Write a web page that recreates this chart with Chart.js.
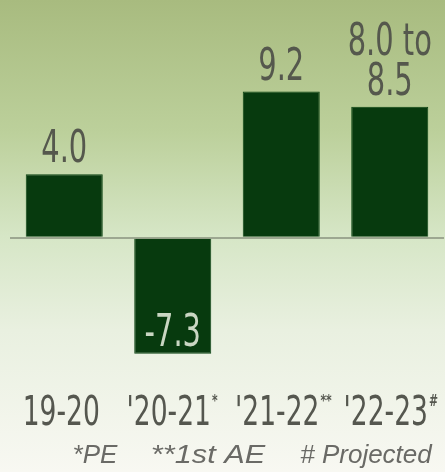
<!DOCTYPE html>
<html>
<head>
<meta charset="utf-8">
<script src="https://cdn.jsdelivr.net/npm/chart.js@4.4.0/dist/chart.umd.min.js"></script>
<style>
  html, body { margin:0; padding:0; }
  body {
    width:445px; height:472px; overflow:hidden;
    background: linear-gradient(to bottom, #a8bb7f 0%, #bcd09b 28%, #d6e6c6 50%, #e9f0e0 70%, #f8f8f2 100%);
  }
  canvas { display:block; }
</style>
</head>
<body>
<canvas id="gdp" width="445" height="472"></canvas>
<script>
// growth figures, %
var years = ["19-20", "'20-21", "'21-22", "'22-23"];
var yearMarks = ["", "*", "**", "#"];
var growth = [4.0, -7.3, 9.2, 8.25];
var valueText = [["4.0"], ["-7.3"], ["9.2"], ["8.0 to", "8.5"]];
var footnotes = ["*PE", "**1st AE", "# Projected"];

var narrow = "'DejaVu Sans Condensed', 'DejaVu Sans', sans-serif";

// squeeze text sideways, the original uses a very condensed face
function squeezed(ctx, txt, x, y, sx) {
  ctx.save();
  ctx.translate(x, y);
  ctx.scale(sx, 1);
  ctx.fillText(txt, 0, 0);
  ctx.restore();
}

// where the footnote pieces sit in the original (centre x)
var footSpots = [95, 208, 366];

var labelsPlugin = {
  id: 'barLabels',
  afterDatasetsDraw: function(chart) {
    var ctx = chart.ctx;
    var meta = chart.getDatasetMeta(0);
    var xs = chart.scales.x;
    ctx.save();
    ctx.textAlign = "center";
    ctx.textBaseline = "alphabetic";
    ctx.font = "44px " + narrow;
    meta.data.forEach(function(bar, i) {
      var lines = valueText[i];
      if (growth[i] < 0) {
        ctx.fillStyle = "#c9d6c2";
        squeezed(ctx, lines[0], bar.x, bar.y - 8, 0.73);
      } else {
        ctx.fillStyle = "#55584d";
        for (var k = 0; k < lines.length; k++) {
          var y = bar.y - 12 - (lines.length - 1 - k) * 40;
          squeezed(ctx, lines[k], bar.x, y, 0.73);
        }
      }
    });
    // category labels under the chart, with small raised marks
    years.forEach(function(lab, i) {
      var cx = xs.getPixelForValue(i) - (yearMarks[i] ? 4 : 3);
      ctx.font = "41px " + narrow;
      ctx.fillStyle = "#55574f";
      ctx.textAlign = "center";
      squeezed(ctx, lab, cx, 425, 0.72);
      var w = ctx.measureText(lab).width * 0.72;
      if (yearMarks[i]) {
        ctx.font = "bold 15px " + narrow;
        ctx.textAlign = "left";
        squeezed(ctx, yearMarks[i], cx + w / 2 + 1, 406, 0.8);
      }
    });
    ctx.font = "italic 26px 'Liberation Sans', Arial, sans-serif";
    ctx.fillStyle = "#6a6a66";
    ctx.textAlign = "center";
    footnotes.forEach(function(t, i) {
      squeezed(ctx, t, footSpots[i], 463, i === 1 ? 1.18 : 1.0);
    });
    ctx.restore();
  }
};

var ctx = document.getElementById("gdp").getContext("2d");
var chart = new Chart(ctx, {
  type: 'bar',
  data: {
    labels: years,
    datasets: [{
      data: growth,
      backgroundColor: '#073a0e',
      borderColor: '#0b4412',
      borderWidth: 1,
      barPercentage: 0.71,
      categoryPercentage: 1.0
    }]
  },
  options: {
    responsive: false,
    animation: false,
    layout: { padding: { top: 47, bottom: 107, left: 10, right: 1 } },
    plugins: { legend: { display: false }, tooltip: { enabled: false } },
    scales: {
      x: { display: false },
      y: {
        min: -8,
        max: 12,
        ticks: { display: false, stepSize: 1 },
        border: { display: false },
        grid: {
          drawTicks: false,
          lineWidth: 2,
          color: function(c) { return c.tick && c.tick.value === 0 ? 'rgba(110,115,100,0.55)' : 'rgba(0,0,0,0)'; }
        }
      }
    }
  },
  plugins: [labelsPlugin]
});
</script>
</body>
</html>
